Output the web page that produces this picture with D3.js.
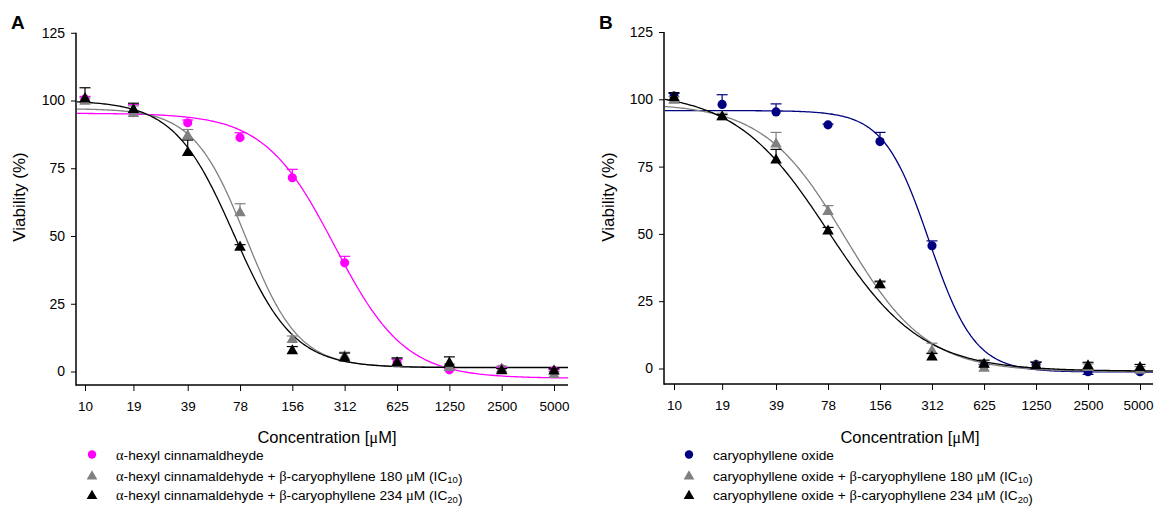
<!DOCTYPE html>
<html><head><meta charset="utf-8">
<script src="https://cdn.jsdelivr.net/npm/d3@7"></script>
<style>
body{margin:0;background:#fff}
text{font-family:"Liberation Sans",Arial,Helvetica,sans-serif;fill:#000}
.gk{font-family:"Liberation Serif","Times New Roman",serif}
</style></head>
<body><svg id="c" width="1154" height="506"></svg>
<script>
// ---------- data ----------
const conc = [10, 19, 39, 78, 156, 312, 625, 1250, 2500, 5000];
const xTickLabels = ["10", "19", "39", "78", "156", "312", "625", "1250", "2500", "5000"];
const yTicks = [0, 25, 50, 75, 100, 125];

// Panel A (viability %, mean and upper error)
const aHexyl       = [100.5, 95.5, 91.8, 86.3, 71.5, 40.1, 3.5, 0.6, 1.0, 0.3];
const aHexylErr    = [1, 3, 1, 1.8, 3.1, 2.4, 1, 0.5, 0.5, 0.5];
const aHexylIC10   = [100, 95.5, 87.3, 58.9, 12.1, 5.9, 3.4, 1.8, 1.2, -0.8];
const aHexylIC10Err= [1, 2.5, 2, 3, 1, 1.2, 1.5, 1, 0.8, 0.8];
const aHexylIC20   = [101, 97, 81.1, 46.2, 8.0, 5.3, 3.5, 3.4, 0.6, 0.5];
const aHexylIC20Err= [3.7, 2, 4.3, 0.6, 1.2, 1.5, 1.5, 2, 0.5, 0.5];
// fitted dose-response parameters: [top, bottom, IC50, hill]
const aHexylFit     = [95.3, -2.5, 273, 2.15];
const aHexylIC10Fit = [97, 1.6, 84.5, 2.87];
const aHexylIC20Fit = [100, 1.4, 71.8, 2.53];

// Panel B
const cOxide        = [101.2, 98.1, 95.3, 90.5, 84.3, 45.6, 1.0, 1.5, -1.2, -1.2];
const cOxideErr     = [1, 3.6, 3, 0.3, 3.4, 1.8, 0.5, 1, -1, 0.5];
const cOxideIC10    = [100, 93.8, 83.7, 58.6, 31.4, 6.9, 0.4, 1.3, 0.7, -0.3];
const cOxideIC10Err = [1, 1, 4, 1.9, 1.2, 2.5, 1, 1.2, 1, 1];
const cOxideIC20    = [101, 93.8, 77.8, 51.4, 31.4, 4.6, 1.9, 1.3, 1.3, 0.7];
const cOxideIC20Err = [1.5, 0.5, 3.6, 1, 0.8, 1, 1.2, 1, 1, 0.8];
const cOxideFit     = [95.8, -1.3, 301, 3.3];
const cOxideIC10Fit = [98.5, -1.2, 98, 1.84];
const cOxideIC20Fit = [103, -1, 78, 1.61];

const legendA = [
  [["g","α"],["t","-hexyl cinnamaldheyde"]],
  [["g","α"],["t","-hexyl cinnamaldehyde + "],["g","β"],["t","-caryophyllene 180 "],["g","μ"],["t","M (IC"],["s","10"],["t",")"]],
  [["g","α"],["t","-hexyl cinnamaldehyde + "],["g","β"],["t","-caryophyllene 234 "],["g","μ"],["t","M (IC"],["s","20"],["t",")"]]
];
const legendB = [
  [["t","caryophyllene oxide"]],
  [["t","caryophyllene oxide + "],["g","β"],["t","-caryophyllene 180 "],["g","μ"],["t","M (IC"],["s","10"],["t",")"]],
  [["t","caryophyllene oxide + "],["g","β"],["t","-caryophyllene 234 "],["g","μ"],["t","M (IC"],["s","20"],["t",")"]]
];

// ---------- layout ----------
const panels = [
  {letter:"A", letterX:11, axisX:76, x0:85, x1:554, xEnd:568, yTop:32.75, yZero:371.5, axisY:385,
   titleX:327, ylabX:25, legX:92, legTextX:116, legend:legendA, lastEnd:false,
   series:[
     {color:"#ff00ff", shape:"circle", values:aHexyl, err:aHexylErr, fit:aHexylFit},
     {color:"#808080", shape:"tri", values:aHexylIC10, err:aHexylIC10Err, fit:aHexylIC10Fit},
     {color:"#000000", shape:"tri", values:aHexylIC20, err:aHexylIC20Err, fit:aHexylIC20Fit}]},
  {letter:"B", letterX:599, axisX:664, x0:674, x1:1140, xEnd:1153, yTop:32, yZero:368.5, axisY:384,
   titleX:910, ylabX:614, legX:689, legTextX:713, legend:legendB, lastEnd:true,
   series:[
     {color:"#000080", shape:"circle", values:cOxide, err:cOxideErr, fit:cOxideFit},
     {color:"#808080", shape:"tri", values:cOxideIC10, err:cOxideIC10Err, fit:cOxideIC10Fit},
     {color:"#000000", shape:"tri", values:cOxideIC20, err:cOxideIC20Err, fit:cOxideIC20Fit}]}
];
const legY = [455.5, 476, 495.5];

const svg = d3.select("#c");
svg.append("rect").attr("width",1154).attr("height",506).attr("fill","#fff");

function fourPL(p, c){ return p[1] + (p[0]-p[1]) / (1 + Math.pow(c/p[2], p[3])); }
const tri = d3.symbol().type(d3.symbolTriangle).size(58);
const circ = d3.symbol().type(d3.symbolCircle).size(66);
const triL = d3.symbol().type(d3.symbolTriangle).size(50);
const circL = d3.symbol().type(d3.symbolCircle).size(56);

panels.forEach(P => {
  const x = d3.scaleLog().domain([conc[0], conc[conc.length-1]]).range([P.x0, P.x1]);
  const y = d3.scaleLinear().domain([0, 125]).range([P.yZero, P.yTop]);
  const g = svg.append("g");

  // panel letter
  g.append("text").attr("x", P.letterX).attr("y", 29).attr("font-size", 19).attr("font-weight", "bold").text(P.letter);

  // y axis
  const ya = g.append("g").attr("transform", `translate(${P.axisX},0)`)
    .call(d3.axisLeft(y).tickValues(yTicks).tickSize(5).tickSizeOuter(0).tickPadding(6));
  ya.select(".domain").remove();
  ya.selectAll("text").attr("font-size", 14).attr("font-family", "Liberation Sans, Arial, sans-serif").attr("fill", "#000");
  ya.selectAll("line").attr("stroke", "#000").attr("stroke-width", 1);
  g.append("line").attr("x1", P.axisX).attr("x2", P.axisX).attr("y1", P.yTop).attr("y2", P.axisY + 0.75)
    .attr("stroke", "#000").attr("stroke-width", 1.5);

  // x axis
  const xa = g.append("g").attr("transform", `translate(0,${P.axisY})`)
    .call(d3.axisBottom(x).tickValues(conc).tickFormat((d,i) => xTickLabels[i]).tickSize(6).tickSizeOuter(0).tickPadding(10));
  xa.select(".domain").remove();
  xa.selectAll("text").attr("font-size", 13.5).attr("font-family", "Liberation Sans, Arial, sans-serif").attr("fill", "#000");
  if (P.lastEnd) {
    xa.selectAll(".tick text").filter((d, i, nodes) => i === nodes.length - 1)
      .attr("text-anchor", "end").attr("dx", 13);
  }
  xa.selectAll("line").attr("stroke", "#000").attr("stroke-width", 1);
  g.append("line").attr("x1", P.axisX).attr("x2", P.xEnd).attr("y1", P.axisY).attr("y2", P.axisY)
    .attr("stroke", "#000").attr("stroke-width", 1.5);

  // axis titles
  g.append("text").attr("transform", `translate(${P.ylabX},197) rotate(-90)`)
    .attr("text-anchor", "middle").attr("font-size", 17).text("Viability (%)");
  const ct = g.append("text").attr("x", P.titleX).attr("y", 443).attr("text-anchor", "middle").attr("font-size", 16.5);
  ct.append("tspan").text("Concentration [");
  ct.append("tspan").attr("class", "gk").text("μ");
  ct.append("tspan").text("M]");

  // fitted curves
  const n = 300;
  P.series.forEach(s => {
    const pts = d3.range(n + 1).map(i => {
      const px = P.axisX + 1 + i * (P.xEnd - P.axisX - 1) / n;
      const c = x.invert(px);
      return [px, y(fourPL(s.fit, c))];
    });
    g.append("path").attr("d", d3.line()(pts)).attr("fill", "none")
      .attr("stroke", s.color).attr("stroke-width", 1.3);
  });

  // points with error bars
  P.series.forEach(s => {
    const sg = g.append("g");
    conc.forEach((c, i) => {
      const cx = x(c), v = s.values[i], e = s.err[i];
      const yt = y(v + e);
      sg.append("line").attr("x1", cx).attr("x2", cx).attr("y1", y(v)).attr("y2", yt)
        .attr("stroke", s.color).attr("stroke-width", 1.2);
      sg.append("line").attr("x1", cx - 5.5).attr("x2", cx + 5.5).attr("y1", yt).attr("y2", yt)
        .attr("stroke", s.color).attr("stroke-width", 1.2);
    });
    sg.selectAll("path.m").data(conc).join("path").attr("class", "m")
      .attr("transform", (c, i) => `translate(${x(c)},${y(s.values[i]) + (s.shape === "tri" ? 1 : 0)})`)
      .attr("d", s.shape === "tri" ? tri : circ)
      .attr("fill", s.color);
  });

  // legend
  P.legend.forEach((parts, i) => {
    const s = P.series[i];
    g.append("path").attr("transform", `translate(${P.legX},${legY[i] + (s.shape === "tri" ? 0.5 : -1)})`)
      .attr("d", s.shape === "tri" ? triL : circL).attr("fill", s.color);
    const t = g.append("text").attr("x", P.legTextX).attr("y", legY[i] + 4.5).attr("font-size", 13.7);
    parts.forEach(([k, str]) => {
      if (k === "t") t.append("tspan").text(str);
      else if (k === "g") t.append("tspan").attr("class", "gk").attr("font-size", 14.5).text(str);
      else {
        t.append("tspan").attr("font-size", 9.5).attr("dy", 2.5).text(str);
        t.append("tspan").attr("dy", -2.5).text("");
      }
    });
  });
});
</script>
</body></html>
